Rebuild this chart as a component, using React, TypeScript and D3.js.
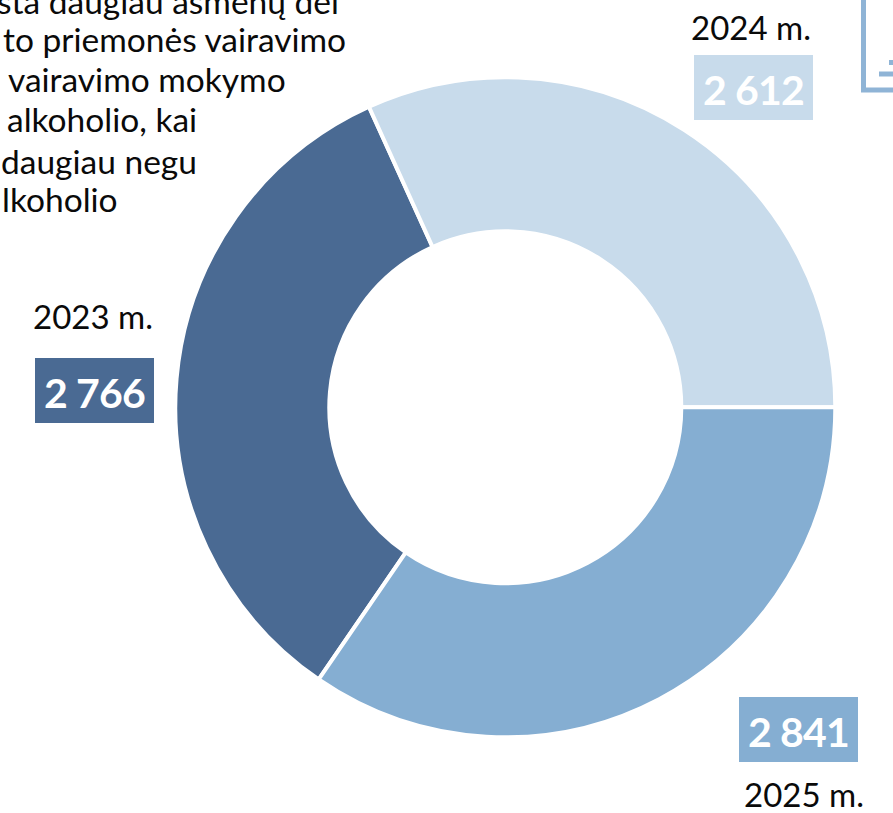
import React from "react";
import * as d3 from "d3";

const years = ["2023 m.", "2024 m.", "2025 m."];
const values = [2766, 2612, 2841];
const valueLabels = ["2 766", "2 612", "2 841"];
const colors = ["#4a6a93", "#c8dbeb", "#85aed2"];
const noteLines = [
  "sta daugiau asmenų dėl",
  "to priemonės vairavimo",
  "vairavimo mokymo",
  "alkoholio, kai",
  "daugiau negu",
  "lkoholio",
];
const noteX = [-3, 3, 8, 7, 1, 2];
const noteY = [14, 52, 92, 132, 174, 212];

const W = 893;
const H = 813;
const cx = 505.3;
const cy = 407.3;
const font = "Lato, 'Open Sans', sans-serif";

const labelBoxes = [
  { x: 35, y: 358, yearX: 93, yearY: 329 },
  { x: 694, y: 55, yearX: 751, yearY: 40 },
  { x: 739, y: 697, yearX: 804, yearY: 807 },
];

export default function App() {
  const total = d3.sum(values);
  const startOffset = Math.PI / 2 - ((values[0] + values[1]) / total) * 2 * Math.PI;
  const pie = d3
    .pie<number>()
    .sort(null)
    .startAngle(startOffset)
    .endAngle(startOffset + 2 * Math.PI);
  const arc = d3.arc<d3.PieArcDatum<number>>().innerRadius(176).outerRadius(330);
  const arcs = pie(values);
  return (
    <svg
      width={W}
      height={H}
      viewBox={`0 0 ${W} ${H}`}
      style={{ position: "absolute", left: 0, top: 0, display: "block" }}
    >
      <rect width={W} height={H} fill="#fff" />
      {noteLines.map((t, i) => (
        <text key={i} x={noteX[i]} y={noteY[i]} fontFamily={font} fontSize={33.5} fill="#0a0a0a">
          {t}
        </text>
      ))}
      <g transform={`translate(${cx},${cy})`}>
        {arcs.map((a, i) => (
          <path key={i} d={arc(a) ?? ""} fill={colors[i]} stroke="#fff" strokeWidth={4} />
        ))}
      </g>
      {labelBoxes.map((b, i) => (
        <g key={i}>
          <rect x={b.x} y={b.y} width={119} height={65} fill={colors[i]} />
          <text x={b.x + 59.5} y={b.y + 50} textAnchor="middle" fontFamily={font} fontWeight={700} fontSize={41} letterSpacing={-0.8} fill="#fff">
            {valueLabels[i]}
          </text>
          <text x={b.yearX} y={b.yearY} textAnchor="middle" fontFamily={font} fontSize={33} fill="#0a0a0a">
            {years[i]}
          </text>
        </g>
      ))}
      <path d="M863.5,0V90H893" fill="none" stroke="#8fb4d6" strokeWidth={5} />
      <path d="M879,74H893" stroke="#8fb4d6" strokeWidth={5} fill="none" />
      <rect x={889} y={60} width={4} height={5} fill="#8fb4d6" />
    </svg>
  );
}
